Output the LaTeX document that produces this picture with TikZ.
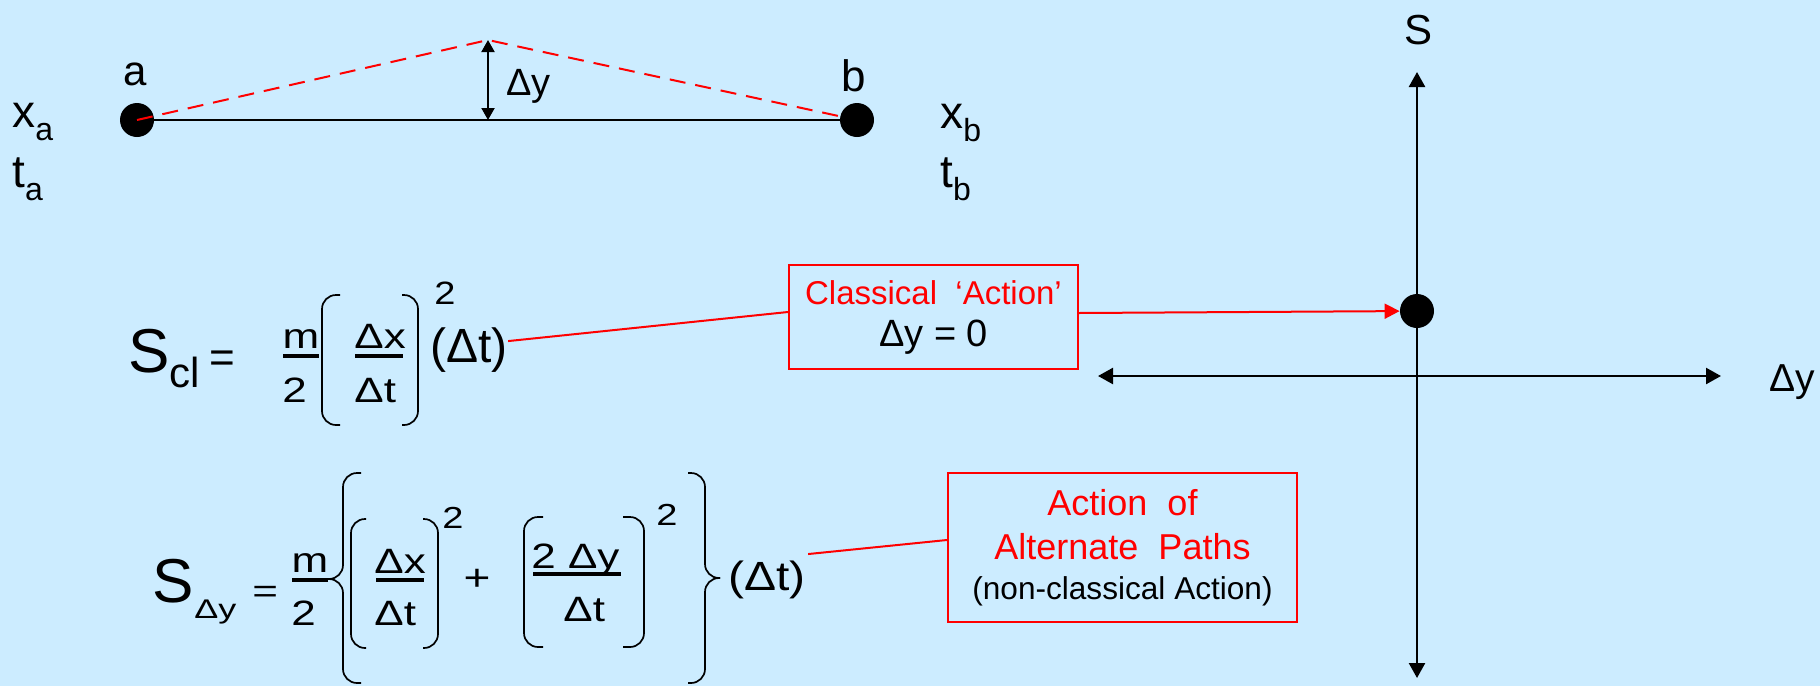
\documentclass[tikz,border=0pt]{standalone}
\usepackage{fontspec}
\setmainfont{Liberation Sans}
\usepackage{graphicx}
\usetikzlibrary{arrows.meta}

\definecolor{slidebg}{RGB}{204,236,255}
\newcommand{\fsz}[2]{\fontsize{#1}{#2}\selectfont}
\newcommand{\squash}[2]{\scalebox{1}[#1]{#2}}
\newcommand{\lowsub}[2]{\raisebox{-6.5pt}{\fsz{#1}{#1}#2}}

\begin{document}
\begin{tikzpicture}[x=0.5pt, y=-0.5pt,
    dot/.style={circle, fill=black, inner sep=0pt, minimum size=17pt},
    txt/.style={inner sep=0pt, anchor=base west},
    paren/.style={line width=0.85pt, rounded corners=7pt},
    fracbar/.style={line width=1.6pt},
    axis/.style={line width=1.2pt, {Triangle[width=8pt,length=7.5pt]}-{Triangle[width=8pt,length=7.5pt]}},
    callout/.style={draw=red, line width=1pt, inner sep=0pt, align=center}]

    % Draw the slide
    \fill[slidebg] (0,0) rectangle (1820,686);
    \useasboundingbox (0,0) rectangle (1820,686);

    % Paths from a to b
    \node[dot] (a) at (137,120) {};
    \node[dot] (b) at (857,120) {};
    \coordinate (apex) at (488,40);
    \coordinate (foot) at (488,120);
    \draw[line width=1pt] (a) -- (b);
    \draw[red, line width=1pt, dash pattern=on 8pt off 5pt] (a.center) -- (apex) -- (b);
    \draw[line width=1pt, {Triangle[width=6.5pt,length=6pt]}-{Triangle[width=6.5pt,length=6pt]}] (apex) -- (foot);

    \node[txt, anchor=base, font=\fsz{21}{21}] (alab) at (135,85) {a};
    \node[txt, anchor=base, font=\fsz{22}{22}] (blab) at (854,91) {b};
    \node[txt, font=\fsz{19}{19}] (dylab) at (506,95) {Δy};
    \node[txt, font=\fsz{23}{23}] (xa) at (12,127) {x\lowsub{16}{a}};
    \node[txt, font=\fsz{23}{23}] (ta) at (12,187) {t\lowsub{16}{a}};
    \node[txt, font=\fsz{23}{23}] (xb) at (940,128) {x\lowsub{16}{b}};
    \node[txt, font=\fsz{23}{23}] (tb) at (940,187) {t\lowsub{16}{b}};

    % Classical action
    \node[txt, font=\fsz{31}{31}] (Scl) at (128,372) {S};
    \node[txt, font=\fsz{21}{21}] (cl) at (169,387) {cl};
    \node[txt, font=\fsz{22}{22}] (eq1) at (209,372) {=};
    \node[txt, anchor=base, font=\fsz{22}{22}] (m1) at (301,348) {\squash{0.8}{m}};
    \node[txt, font=\fsz{22}{22}] (two1) at (282,402) {\squash{0.8}{2}};
    \draw[fracbar] (283,356) -- (319,356);
    \draw[paren] (340,295) -- (322,295) -- (322,425) -- (340,425);
    \draw[paren] (402,295) -- (418,295) -- (418,425) -- (402,425);
    \node[txt, font=\fsz{22}{22}] (dx1) at (354,348) {\squash{0.8}{Δx}};
    \draw[fracbar] (355,356) -- (403,356);
    \node[txt, font=\fsz{22}{22}] (dt1) at (354,402) {\squash{0.8}{Δt}};
    \node[txt, font=\fsz{19}{19}] (sq1) at (434,304) {\squash{0.85}{2}};
    \node[txt, font=\fsz{24}{24}] (dtp1) at (430,362) {(Δt)};

    % Alternate paths
    \node[txt, font=\fsz{31}{31}] (Sdy) at (152,602) {S};
    \node[txt, font=\fsz{18}{18}] (dysub) at (194,618) {\squash{0.75}{Δy}};
    \node[txt, font=\fsz{22}{22}] (eq2) at (252,602) {\squash{0.75}{=}};
    \node[txt, anchor=base, font=\fsz{22}{22}] (m2) at (310,572) {\squash{0.8}{m}};
    \node[txt, font=\fsz{22}{22}] (two2) at (291,625) {\squash{0.8}{2}};
    \draw[fracbar] (292,580) -- (328,580);
    \draw[paren] (361,473) -- (343,473) -- (343,579) -- (328,579);
    \draw[paren] (361,683) -- (343,683) -- (343,579) -- (328,579);
    \draw[paren] (366,519) -- (351,519) -- (351,648) -- (366,648);
    \draw[paren] (423,519) -- (438,519) -- (438,648) -- (423,648);
    \node[txt, font=\fsz{22}{22}] (dx2) at (374,573) {\squash{0.8}{Δx}};
    \draw[fracbar] (376,580) -- (424,580);
    \node[txt, font=\fsz{22}{22}] (dt2) at (374,625) {\squash{0.8}{Δt}};
    \node[txt, font=\fsz{19}{19}] (sq2) at (442,528) {\squash{0.8}{2}};
    \node[txt, anchor=base, font=\fsz{23}{23}] (plus) at (477,590) {\squash{0.8}{+}};
    \draw[paren] (543,517) -- (524,517) -- (524,647) -- (543,647);
    \draw[paren] (623,517) -- (644,517) -- (644,647) -- (623,647);
    \node[txt, font=\fsz{22}{22}] (dy2) at (531,568) {\squash{0.8}{2 Δy}};
    \draw[fracbar] (533,574) -- (621,574);
    \node[txt, font=\fsz{22}{22}] (dt3) at (563,621) {\squash{0.8}{Δt}};
    \node[txt, font=\fsz{19}{19}] (sq3) at (656,525) {\squash{0.8}{2}};
    \draw[paren] (688,473) -- (705,473) -- (705,578) -- (720,578);
    \draw[paren] (688,683) -- (705,683) -- (705,578) -- (720,578);
    \node[txt, font=\fsz{24}{24}] (dtp2) at (728,590) {\squash{0.85}{(Δt)}};

    % Action axes
    \coordinate (stop) at (1417,72);
    \coordinate (sbot) at (1417,678);
    \coordinate (yleft) at (1098,376);
    \coordinate (yright) at (1721,376);
    \draw[axis] (sbot) -- (stop);
    \draw[axis] (yleft) -- (yright);
    \node[dot] (sdot) at (1417,311) {};
    \node[txt, anchor=base, font=\fsz{21}{21}] (slab) at (1418,44) {S};
    \node[txt, font=\fsz{19.5}{19.5}] (dyax) at (1769,391) {Δy};

    % Callouts
    \node[callout, minimum width=144.5pt, minimum height=52pt, font=\fsz{16.5}{21}] (classic) at (933.5,317)
        {\textcolor{red}{Classical\ \ ‘Action’}\\{\fsz{19}{21}Δy = 0}};
    \node[callout, minimum width=174.5pt, minimum height=74.5pt, font=\fsz{18}{22}] (alt) at (1122.5,547.5)
        {\textcolor{red}{Action\ \ of}\\\textcolor{red}{Alternate\ \ Paths}\\[-2pt]{\fsz{15.8}{20}(non-classical Action)}};

    \draw[red, line width=1pt] ([yshift=4.25pt]dtp1.east) -- ([yshift=2.5pt]classic.west);
    \draw[red, line width=1pt] ([xshift=1pt,yshift=3pt]dtp2.north east) -- ([yshift=3.75pt]alt.west);
    \draw[red, line width=1pt, -{Triangle[width=7.5pt,length=7.5pt]}] ([yshift=2pt]classic.east) -- (sdot);
\end{tikzpicture}
\end{document}
